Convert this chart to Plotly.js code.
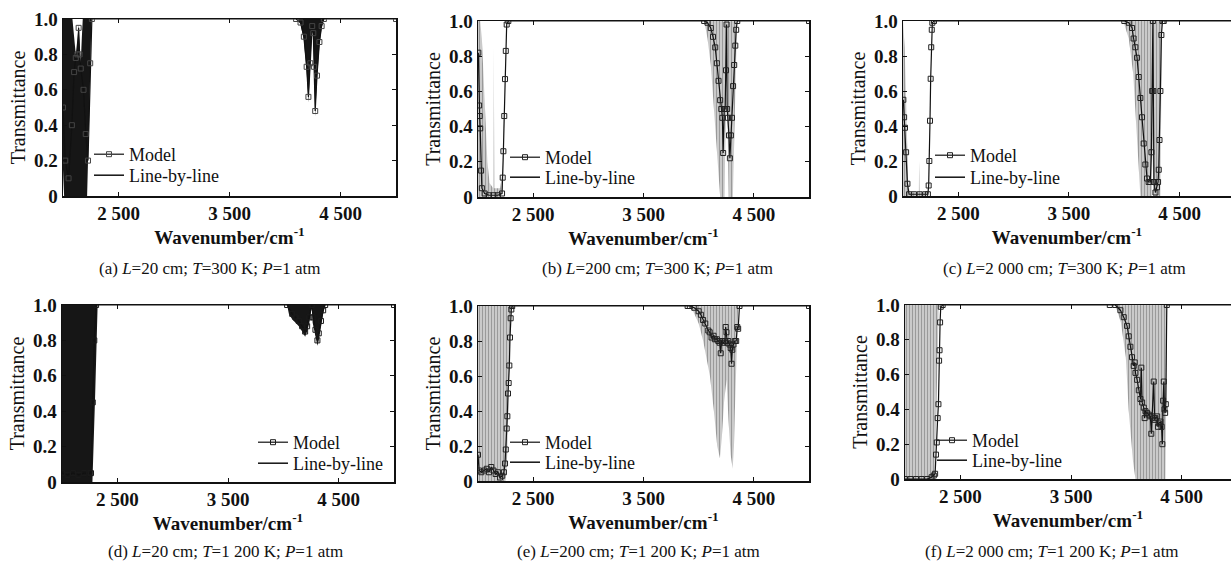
<!DOCTYPE html>
<html><head><meta charset="utf-8">
<script src="https://cdn.plot.ly/plotly-3.0.1.min.js"></script>
<style>html,body{margin:0;padding:0;background:#fff}#chart{width:1231px;height:562px}</style>
</head><body><div id="chart"></div>
<script>
// ---------- tick labels ----------
const xTickVals = [2500, 3500, 4500];
const xTickText = ['2 500', '3 500', '4 500'];
const yTickVals = [0, 0.2, 0.4, 0.6, 0.8, 1.0];
const yTickText = ['0', '0.2', '0.4', '0.6', '0.8', '1.0'];
const seriesNames = ['Model', 'Line-by-line'];
const captions = [
  '(a) <i>L</i>=20 cm; <i>T</i>=300 K; <i>P</i>=1 atm',
  '(b) <i>L</i>=200 cm; <i>T</i>=300 K; <i>P</i>=1 atm',
  '(c) <i>L</i>=2 000 cm; <i>T</i>=300 K; <i>P</i>=1 atm',
  '(d) <i>L</i>=20 cm; <i>T</i>=1 200 K; <i>P</i>=1 atm',
  '(e) <i>L</i>=200 cm; <i>T</i>=1 200 K; <i>P</i>=1 atm',
  '(f) <i>L</i>=2 000 cm; <i>T</i>=1 200 K; <i>P</i>=1 atm'
];

// ---------- (a) L=20 cm, T=300 K ----------
const a_lbl_wn = [2000,2010,2040,2085,2100,2115,2132,2141,2145,2160,2170,2178,2217,2236,2256,4110,4140,4170,4195,4211,4228,4245,4255,4262,4272,4288,4310,4330,4350,5000];
const a_lbl_lo = [0.15,0,0,0,0,0,0,0,0,0,0,0,0,0.45,1,1,0.97,0.88,0.7,0.53,0.72,0.95,0.9,0.7,0.45,0.65,0.85,0.95,1,1];
const a_lbl_hi = [1,1,1,1,0.9,0.8,0.9,0.97,0.9,0.75,0.9,1,1,1,1,1,1,1,1,1,1,1,1,1,1,1,1,1,1,1];
const a_mod_wn = [2000,2020,2050,2080,2100,2115,2130,2141,2150,2160,2185,2205,2225,2245,2260,4100,4140,4170,4195,4211,4228,4245,4255,4262,4272,4288,4310,4330,4350,5000];
const a_mod = [0.5,0.2,0.1,0.4,0.7,0.78,0.8,0.95,0.8,0.72,0.6,0.35,0.2,0.75,1,1,0.98,0.9,0.73,0.56,0.75,0.96,0.92,0.73,0.48,0.68,0.87,0.96,1,1];

// ---------- (b) L=200 cm, T=300 K ----------
const b_lbl_wn = [2000,2020,2035,2050,2065,2085,2105,2138,2143,2148,2200,2225,2240,2255,4050,4080,4110,4140,4170,4195,4235,4246,4253,4260,4272,4310,4325,4340,4348,5000];
const b_lbl_lo = [0,0,0,0,0,0,0,0,0,0,0,0.05,0.5,1,1,0.9,0.75,0.5,0.25,0,0,0.6,0.95,0.5,0,0,0.4,0.85,1,1];
const b_lbl_hi = [1,1,0.9,0.7,0.45,0.2,0.08,0.05,0.85,0.05,0.05,0.15,0.6,1,1,1,1,1,1,1,1,1,1,1,1,1,1,1,1,1];
const b_mod_wn = [2003,2010,2015,2020,2028,2035,2060,2100,2140,2180,2218,2224,2230,2238,2245,2252,2260,2275,4050,4080,4110,4130,4150,4165,4180,4195,4205,4215,4222,4232,4240,4248,4253,4258,4265,4275,4283,4292,4302,4312,4322,4332,4340,4350,5000];
const b_mod = [0.82,0.52,0.46,0.39,0.15,0.05,0.02,0.01,0.01,0.01,0.02,0.11,0.26,0.46,0.67,0.83,0.98,1.0,1.0,0.99,0.96,0.91,0.85,0.76,0.66,0.55,0.5,0.45,0.25,0.5,0.5,0.72,0.98,0.5,0.45,0.35,0.22,0.35,0.45,0.63,0.75,0.86,0.95,1.0,1.0];

// ---------- (c) L=2000 cm, T=300 K ----------
const c_lbl_wn = [2000,2015,2030,2045,2060,2143,2146,2149,2225,2240,2255,3990,4040,4080,4100,4125,4145,4248,4255,4262,4326,4333,4342,5000];
const c_lbl_lo = [0,0,0,0,0,0,0,0,0,0.4,1,1,0.9,0.7,0.5,0.2,0,0,0.35,0,0,0.5,1,1];
const c_lbl_hi = [1,0.85,0.5,0.1,0.02,0.02,0.2,0.02,0.02,0.4,1,1,1,1,1,1,1,1,1,1,1,1,1,1];
const c_mod_wn = [2003,2010,2018,2028,2040,2055,2100,2150,2200,2225,2232,2238,2244,2250,2255,2260,2265,2280,4000,4040,4070,4084,4100,4115,4130,4145,4160,4175,4190,4205,4220,4235,4245,4252,4258,4262,4268,4281,4295,4305,4311,4318,4326,4335,4345,4356,5000];
const c_mod = [0.55,0.45,0.39,0.25,0.07,0.01,0.01,0.01,0.01,0.01,0.06,0.2,0.43,0.67,0.85,0.95,0.99,1.0,1.0,0.99,0.96,0.9,0.85,0.79,0.68,0.56,0.45,0.3,0.18,0.1,0.08,0.08,0.25,0.6,1.0,0.6,0.08,0.02,0.05,0.08,0.15,0.32,0.6,0.92,1.0,1.0,1.0];

// ---------- (d) L=20 cm, T=1200 K ----------
const d_lbl_wn = [2000,2275,2300,2322,4034,4050,4080,4110,4140,4170,4197,4215,4235,4250,4257,4265,4290,4308,4320,4340,4360,4378,5000];
const d_lbl_lo = [0,0,0.5,1,1,0.95,0.92,0.9,0.88,0.85,0.82,0.85,0.9,0.96,0.99,0.9,0.82,0.77,0.8,0.88,0.95,1,1];
const d_lbl_hi = [1,1,1,1,1,1,1,1,1,1,1,1,1,1,1,1,1,1,1,1,1,1,1];
const d_mod_wn = [2000,2050,2100,2150,2200,2250,2262,2278,2292,2308,4034,4080,4110,4140,4170,4197,4215,4235,4257,4270,4290,4308,4320,4340,4360,4378,5000];
const d_mod = [0.05,0.04,0.05,0.04,0.05,0.05,0.05,0.45,0.8,1,1,0.95,0.93,0.91,0.88,0.85,0.88,0.93,1,0.93,0.86,0.8,0.84,0.91,0.97,1,1];

// ---------- (e) L=200 cm, T=1200 K ----------
const e_lbl_wn = [2000,2250,2265,2280,2295,2310,3900,3950,4000,4041,4070,4102,4138,4168,4193,4210,4230,4253,4270,4290,4308,4320,4328,4344,4358,5000];
const e_lbl_lo = [0,0,0.15,0.5,0.9,1,1,0.97,0.9,0.8,0.7,0.6,0.4,0.2,0.13,0.25,0.45,0.58,0.35,0.15,0.07,0.2,0.4,0.8,1,1];
const e_lbl_hi = [1,1,1,1,1,1,1,1,1,1,1,1,1,1,1,1,1,1,1,1,1,1,1,1,1,1];
const e_mod_wn = [2000,2010,2030,2060,2080,2100,2120,2140,2160,2180,2200,2220,2235,2245,2252,2260,2266,2272,2278,2284,2290,2296,2302,2310,3900,3920,3960,4000,4020,4040,4060,4087,4100,4117,4135,4147,4165,4178,4190,4200,4208,4222,4238,4245,4252,4260,4268,4280,4290,4298,4305,4315,4328,4340,4350,4358,4370,5000];
const e_mod = [0.15,0.06,0.05,0.06,0.07,0.05,0.08,0.06,0.04,0.05,0.02,0.03,0.05,0.1,0.18,0.3,0.37,0.5,0.56,0.66,0.82,0.93,0.98,1.0,1.0,1.0,0.99,0.97,0.95,0.92,0.9,0.86,0.85,0.82,0.83,0.81,0.81,0.8,0.79,0.73,0.8,0.79,0.8,0.88,0.85,0.79,0.8,0.78,0.76,0.67,0.75,0.78,0.8,0.8,0.88,0.87,1.0,1.0];

// ---------- (f) L=2000 cm, T=1200 K ----------
const f_lbl_wn = [2000,2265,2280,2295,2305,3900,3950,3995,4020,4060,4082,4353,4360,4368,5000];
const f_lbl_lo = [0,0,0.3,0.8,1,1,0.9,0.7,0.4,0.1,0,0,0.5,1,1];
const f_lbl_hi = [1,1,1,1,1,1,1,1,1,1,1,1,1,1,1];
const f_mod_wn = [2000,2050,2100,2150,2200,2240,2260,2272,2280,2287,2295,2302,2308,2312,2317,2323,2340,3850,3900,3946,3976,4006,4021,4036,4051,4066,4075,4082,4097,4112,4127,4135,4142,4157,4165,4172,4187,4202,4217,4225,4232,4247,4255,4262,4278,4285,4293,4308,4318,4325,4332,4338,4344,4350,4356,4365,5000];
const f_mod = [0,0,0,0,0,0.01,0.02,0.03,0.14,0.21,0.35,0.43,0.68,0.74,0.9,0.99,1.0,1.0,1.0,0.97,0.93,0.88,0.82,0.76,0.7,0.65,0.67,0.61,0.57,0.51,0.46,0.64,0.44,0.41,0.35,0.39,0.38,0.37,0.36,0.26,0.36,0.56,0.34,0.35,0.36,0.3,0.32,0.33,0.3,0.2,0.45,0.56,0.4,0.38,0.43,1.0,1.0];

// ---------- layout geometry (pixels) ----------
const W = 1231, H = 562;
const FONT = 'Liberation Serif';
// leg: [left x of legend, top y of "Model" entry, top y of "Line-by-line" entry]
const panels = [
  {lw:a_lbl_wn, lo:a_lbl_lo, hi:a_lbl_hi, mw:a_mod_wn, m:a_mod, dark:true,  mk:'#444',   box:[63,396,19,196],  xmax:5000, leg:[89,136,157],  cap:[209,268], mirrorY:true},
  {lw:b_lbl_wn, lo:b_lbl_lo, hi:b_lbl_hi, mw:b_mod_wn, m:b_mod, dark:false, mk:'#222',   box:[478,809,21,197], xmax:5000, leg:[505,139,159], cap:[657,268], mirrorY:true},
  {lw:c_lbl_wn, lo:c_lbl_lo, hi:c_lbl_hi, mw:c_mod_wn, m:c_mod, dark:false, mk:'#222',   box:[903,1231,21,196],xmax:4964, leg:[930,137,159], cap:[1064,268], mirrorY:false},
  {lw:d_lbl_wn, lo:d_lbl_lo, hi:d_lbl_hi, mw:d_mod_wn, m:d_mod, dark:true,  mk:'#1a1a1a',box:[62,394,305,482], xmax:5000, leg:[253,424,445], cap:[225,551], mirrorY:true},
  {lw:e_lbl_wn, lo:e_lbl_lo, hi:e_lbl_hi, mw:e_mod_wn, m:e_mod, dark:false, mk:'#222',   box:[478,809,306,481],xmax:5000, leg:[505,424,444], cap:[638,551], mirrorY:true},
  {lw:f_lbl_wn, lo:f_lbl_lo, hi:f_lbl_hi, mw:f_mod_wn, m:f_mod, dark:false, mk:'#222',   box:[905,1231,305,479],xmax:4945, leg:[932,422,442], cap:[1052,551], mirrorY:false}
];

const data = [];
const layout = {
  width: W, height: H, margin: {l:0, r:0, t:0, b:0},
  paper_bgcolor: '#fff', plot_bgcolor: '#fff', showlegend: true,
  font: {family: FONT, color: '#111'},
  annotations: []
};

function legendBox(xpx, ypx) {
  return {
    x: xpx / W, y: 1 - ypx / H, xanchor: 'left', yanchor: 'top', traceorder: 'normal',
    bgcolor: 'rgba(0,0,0,0)', borderwidth: 0, tracegroupgap: 0, itemwidth: 30,
    font: {family: FONT, size: 18, color: '#111'}
  };
}

panels.forEach((p, i) => {
  const n = i + 1;
  const xa = 'x' + (n === 1 ? '' : n), ya = 'y' + (n === 1 ? '' : n);
  const legM = 'legend' + (2 * i + 1 === 1 ? '' : 2 * i + 1);
  const legL = 'legend' + (2 * i + 2);
  const fillColor = p.dark ? '#161616' : '#c4c4c4';
  data.push({x: p.lw, y: p.lo, xaxis: xa, yaxis: ya, mode: 'lines', line: {width: 0, color: fillColor},
             showlegend: false, hoverinfo: 'skip'});
  const hiTrace = {x: p.lw, y: p.hi, xaxis: xa, yaxis: ya, mode: 'lines', line: {width: 0, color: fillColor},
             fill: 'tonexty', fillcolor: fillColor, showlegend: false, hoverinfo: 'skip'};
  if (!p.dark) hiTrace.fillpattern = {shape: '|', fgcolor: '#9a9a9a', bgcolor: '#d0d0d0', size: 3, solidity: 0.4};
  data.push(hiTrace);
  data.push({x: p.mw, y: p.m, xaxis: xa, yaxis: ya, mode: 'lines+markers', name: seriesNames[0],
             legend: legM, line: {color: '#111', width: 1.2},
             marker: {symbol: 'square-open', size: 5, color: p.mk, line: {width: 1, color: p.mk}}});
  // legend entry only (no plotted points)
  data.push({x: [null], y: [null], xaxis: xa, yaxis: ya, mode: 'lines', name: seriesNames[1],
             legend: legL, line: {color: '#111', width: 1.5}, hoverinfo: 'skip'});

  const [x0, x1, y0, y1] = p.box;
  layout['xaxis' + (n === 1 ? '' : n)] = {
    domain: [x0 / W, x1 / W], anchor: ya, range: [2000, p.xmax],
    tickvals: xTickVals, ticktext: xTickText, ticks: 'inside', ticklen: 4, tickwidth: 1, tickcolor: '#111',
    showline: true, linecolor: '#111', linewidth: 1.5, mirror: 'ticks', showgrid: false, zeroline: false,
    tickfont: {family: FONT, size: 19, weight: 'bold', color: '#111'},
    title: {text: 'Wavenumber/cm<sup>-1</sup>', font: {family: FONT, size: 19, weight: 'bold', color: '#111'}, standoff: 6}
  };
  layout['yaxis' + (n === 1 ? '' : n)] = {
    domain: [1 - y1 / H, 1 - y0 / H], anchor: xa, range: [0, 1],
    tickvals: yTickVals, ticktext: yTickText, ticks: 'inside', ticklen: 4, tickwidth: 1, tickcolor: '#111',
    showline: true, linecolor: '#111', linewidth: 1.5, mirror: p.mirrorY ? 'ticks' : false, showgrid: false, zeroline: false,
    tickfont: {family: FONT, size: 19, weight: 'bold', color: '#111'},
    title: {text: 'Transmittance', font: {family: FONT, size: 20, color: '#111'}, standoff: 3}
  };
  layout[legM] = legendBox(p.leg[0], p.leg[1]);
  layout[legL] = legendBox(p.leg[0], p.leg[2]);
  layout.annotations.push({
    text: captions[i], xref: 'paper', yref: 'paper', x: p.cap[0] / W, y: 1 - p.cap[1] / H,
    xanchor: 'center', yanchor: 'middle', showarrow: false,
    font: {family: FONT, size: 17, color: '#111'}
  });
});

Plotly.newPlot('chart', data, layout, {displayModeBar: false, staticPlot: true});
</script></body></html>
